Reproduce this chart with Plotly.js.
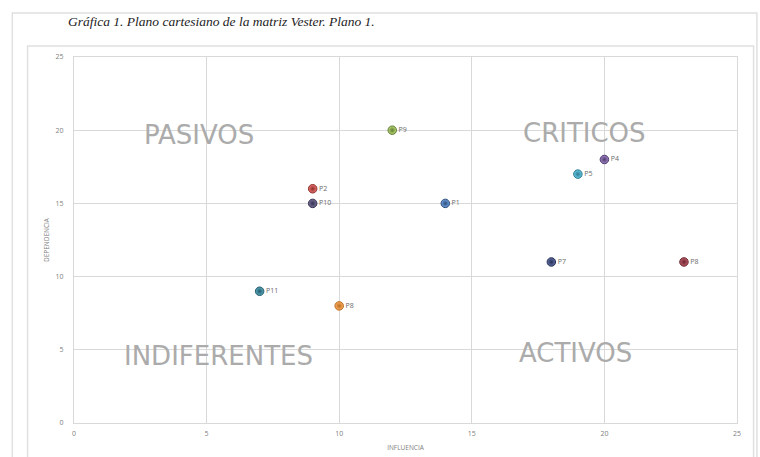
<!DOCTYPE html>
<html><head><meta charset="utf-8">
<script src="https://cdn.plot.ly/plotly-3.0.1.min.js"></script>
<style>html,body{margin:0;padding:0;background:#fff;}#chart{width:760px;height:457px;}</style>
</head><body><div id="chart"></div>
<script>
var labels = ["P1","P2","P4","P5","P7","P8","P8","P9","P10","P11"];
var influencia = [14, 9, 20, 19, 18, 23, 10, 12, 9, 7];
var dependencia = [15, 16, 18, 17, 11, 11, 8, 20, 15, 9];
var colors = ["#6f9fdd","#ef7370","#a084c2","#6bcce6","#5f6fa5","#c0606a","#ffb060","#bbdb79","#76709a","#5aaac0"];
var lines = ["#2c4d7a","#8a2f2c","#4e3c70","#2a7a90","#262f55","#6a2430","#b86a20","#617a30","#363250","#235a6a"];
var quadText = ["PASIVOS","CRITICOS","INDIFERENTES","ACTIVOS"];
var quadX = [4.7, 19.25, 5.45, 18.9];
var quadY = [19.7, 19.8, 4.55, 4.8];

var trace = {
  type: "scatter", mode: "markers+text",
  x: influencia, y: dependencia, text: labels,
  textposition: "middle right",
  textfont: {family: "Open Sans, sans-serif", size: 7, color: "#6a6a6a"},
  marker: {size: 8.5, color: colors, line: {width: 1, color: lines},
    gradient: {type: "radial", color: lines}},
  cliponaxis: false, hoverinfo: "none"
};

var annotations = quadText.map(function(t, i){
  return {x: quadX[i], y: quadY[i], xref: "x", yref: "y", text: t, showarrow: false,
    font: {family: "DejaVu Sans, sans-serif", size: 26, color: "#ababab"}};
});
annotations.push({xref: "paper", yref: "paper", x: -0.012, y: 1.096, xanchor: "left", yanchor: "middle",
  text: "<i>Gráfica 1. Plano cartesiano de la matriz Vester. Plano 1.</i>", showarrow: false,
  font: {family: "Liberation Serif, serif", size: 13.5, color: "#222"}});

var layout = {
  width: 760, height: 457,
  margin: {l: 74, r: 23, t: 57, b: 34},
  paper_bgcolor: "#ffffff", plot_bgcolor: "#ffffff",
  showlegend: false,
  font: {family: "Open Sans, sans-serif", color: "#7f7f7f"},
  xaxis: {range: [0, 25], dtick: 5, tick0: 0, showgrid: true, gridcolor: "#d9d9d9", gridwidth: 1,
    zeroline: false, showline: true, linecolor: "#d9d9d9", mirror: true, ticks: "",
    tickfont: {size: 7, color: "#808080"}, ticklabelstandoff: 4,
    title: {text: "INFLUENCIA", font: {size: 6.5, color: "#808080"}, standoff: 8}},
  yaxis: {range: [0, 25], dtick: 5, tick0: 0, showgrid: true, gridcolor: "#d9d9d9", gridwidth: 1,
    zeroline: false, showline: true, linecolor: "#d9d9d9", mirror: true, ticks: "",
    tickfont: {size: 7, color: "#808080"}, ticklabelstandoff: 8,
    title: {text: "DEPENDENCIA", font: {size: 6.5, color: "#808080"}, standoff: 5}},
  annotations: annotations,
  shapes: [
    {type: "rect", xref: "paper", yref: "paper", x0: -0.093, x1: 1.03, y0: -0.12, y1: 1.12,
     line: {color: "#e0e0e0", width: 1.5}, fillcolor: "rgba(0,0,0,0)", layer: "below"},
    {type: "rect", xref: "paper", yref: "paper", x0: -0.07, x1: 1.025, y0: -0.12, y1: 1.03,
     line: {color: "#e0e0e0", width: 1.5}, fillcolor: "rgba(0,0,0,0)", layer: "below"}
  ]
};
Plotly.newPlot("chart", [trace], layout, {displayModeBar: false, staticPlot: true});
</script></body></html>
